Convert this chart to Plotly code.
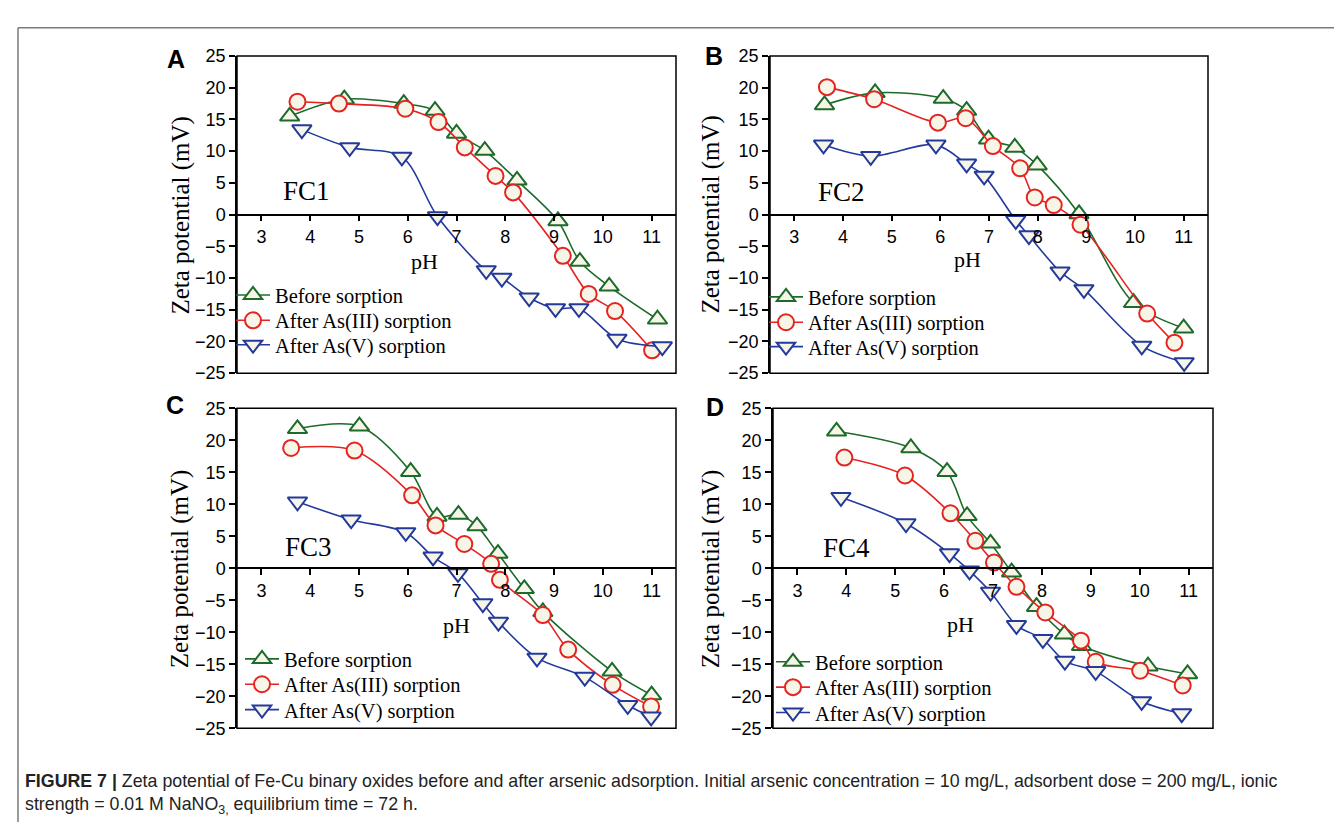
import plotly.graph_objects as go

# ---------------- data ----------------
series_names = ["Before sorption", "After As(III) sorption", "After As(V) sorption"]
panel_letters = ["A", "B", "C", "D"]
sample_names = ["FC1", "FC2", "FC3", "FC4"]
x_tick_vals = [3, 4, 5, 6, 7, 8, 9, 10, 11]
y_tick_vals = [-25, -20, -15, -10, -5, 0, 5, 10, 15, 20, 25]

# FC1 (panel A)
fc1_before_ph = [3.58, 4.70, 5.92, 6.56, 7.00, 7.58, 8.24, 9.08, 9.53, 10.13, 11.12]
fc1_before_zeta = [15.5, 18.2, 17.5, 16.4, 12.8, 10.1, 5.4, -1.0, -7.4, -11.3, -16.5]
fc1_as3_ph = [3.74, 4.59, 5.95, 6.63, 7.17, 7.80, 8.16, 9.18, 9.71, 10.25, 11.01]
fc1_as3_zeta = [17.8, 17.5, 16.7, 14.6, 10.6, 6.1, 3.5, -6.5, -12.5, -15.2, -21.4]
fc1_as5_ph = [3.83, 4.81, 5.88, 6.61, 7.61, 7.93, 8.49, 9.03, 9.51, 10.29, 11.22]
fc1_as5_zeta = [13.4, 10.6, 9.1, -0.3, -8.8, -10.0, -13.1, -14.8, -14.8, -19.6, -20.8]

# FC2 (panel B)
fc2_before_ph = [3.62, 4.66, 6.06, 6.54, 6.99, 7.53, 7.99, 8.85, 9.97, 11.00]
fc2_before_zeta = [17.3, 19.2, 18.3, 16.4, 11.9, 10.6, 7.8, 0.1, -13.9, -17.9]
fc2_as3_ph = [3.67, 4.64, 5.95, 6.52, 7.08, 7.64, 7.94, 8.33, 8.88, 10.25, 10.81]
fc2_as3_zeta = [20.1, 18.2, 14.5, 15.2, 10.8, 7.3, 2.7, 1.5, -1.6, -15.6, -20.2]
fc2_as5_ph = [3.60, 4.57, 5.91, 6.54, 6.90, 7.55, 7.82, 8.46, 8.95, 10.14, 11.01]
fc2_as5_zeta = [11.0, 9.2, 11.0, 8.0, 6.1, -0.9, -3.3, -9.0, -11.8, -20.7, -23.3]

# FC3 (panel C)
fc3_before_ph = [3.74, 5.01, 6.06, 6.60, 7.04, 7.42, 7.85, 8.39, 8.77, 10.19, 11.00]
fc3_before_zeta = [21.8, 22.2, 15.1, 8.1, 8.4, 6.6, 2.3, -3.2, -6.8, -16.1, -19.8]
fc3_as3_ph = [3.61, 4.91, 6.09, 6.57, 7.16, 7.71, 7.89, 8.77, 9.29, 10.20, 10.99]
fc3_as3_zeta = [18.8, 18.4, 11.4, 6.7, 3.8, 0.7, -1.8, -7.3, -12.7, -18.2, -21.6]
fc3_as5_ph = [3.74, 4.84, 5.96, 6.52, 7.03, 7.54, 7.86, 8.65, 9.63, 10.51, 10.99]
fc3_as5_zeta = [10.4, 7.6, 5.6, 1.8, -0.8, -5.5, -8.4, -14.0, -17.0, -21.4, -23.2]

# FC4 (panel D)
fc4_before_ph = [3.80, 5.32, 6.06, 6.47, 6.95, 7.38, 7.89, 8.46, 8.81, 10.17, 10.98]
fc4_before_zeta = [21.4, 18.8, 15.1, 8.2, 3.9, -0.6, -6.0, -10.3, -12.1, -15.3, -16.5]
fc4_as3_ph = [3.96, 5.20, 6.13, 6.64, 7.02, 7.48, 8.07, 8.80, 9.10, 10.01, 10.88]
fc4_as3_zeta = [17.3, 14.5, 8.6, 4.3, 0.9, -2.9, -6.9, -11.3, -14.6, -16.0, -18.3]
fc4_as5_ph = [3.89, 5.22, 6.11, 6.52, 6.95, 7.48, 8.02, 8.47, 9.10, 10.04, 10.86]
fc4_as5_zeta = [11.1, 7.0, 2.3, -0.4, -3.7, -8.9, -11.1, -14.5, -16.1, -20.8, -22.7]

caption_line1 = ("<b>FIGURE 7 |</b> Zeta potential of Fe-Cu binary oxides before and after arsenic "
                 "adsorption. Initial arsenic concentration = 10 mg/L, adsorbent dose = 200 mg/L, ionic")
caption_line2 = "strength = 0.01 M NaNO<sub>3,</sub> equilibrium time = 72 h."

panels_data = [
    [(fc1_before_ph, fc1_before_zeta), (fc1_as3_ph, fc1_as3_zeta), (fc1_as5_ph, fc1_as5_zeta)],
    [(fc2_before_ph, fc2_before_zeta), (fc2_as3_ph, fc2_as3_zeta), (fc2_as5_ph, fc2_as5_zeta)],
    [(fc3_before_ph, fc3_before_zeta), (fc3_as3_ph, fc3_as3_zeta), (fc3_as5_ph, fc3_as5_zeta)],
    [(fc4_before_ph, fc4_before_zeta), (fc4_as3_ph, fc4_as3_zeta), (fc4_as5_ph, fc4_as5_zeta)],
]

# ---------------- styling ----------------
W, H = 1342, 824
colors = ["#1c6b2a", "#e5231f", "#233a9c"]
symbols = ["triangle-up", "circle", "triangle-down"]
marker_fill = "#f7f5e8"
serif = "Liberation Serif, Times New Roman, serif"
sans = "Liberation Sans, Arial, sans-serif"

# pixel boxes of the four plot areas (left, right, top, bottom)
boxes = [(229, 668, 39, 364), (762, 1200, 39, 364), (229, 668, 400, 728), (765, 1205, 400, 728)]
letter_pos = [(168, 42), (706, 39), (167, 397), (707, 399)]
fc_pos = [(0.100, 0.575), (0.105, 0.572), (0.105, 0.567), (0.109, 0.564)]
ph_pos = [(0.428, 0.351), (0.452, 0.360), (0.499, 0.320), (0.427, 0.323)]
ytitle_x = [-0.1276, -0.1347, -0.130, -0.141]
# legend: symbol-centre x and the three item centre y (pixels, placement targets)
legend_sym_x = [254, 787, 263, 794]
legend_item_y = [(284, 310, 335), (286, 312, 337), (657, 683, 709), (660, 686, 712)]
LEGEND_SYM_OFFSET = 31

fig = go.Figure()
layout = dict(
    width=W, height=H, margin=dict(l=0, r=0, t=0, b=0),
    paper_bgcolor="white", plot_bgcolor="white", showlegend=True,
)
shapes = []
annotations = []

for i in range(4):
    n = i + 1
    sfx = "" if n == 1 else str(n)
    xa, ya = "x" + sfx, "y" + sfx
    l, r, t, b = boxes[i]
    xd = [l / W, r / W]
    yd = [1 - b / H, 1 - t / H]
    for k in range(3):
        li = 3 * i + k + 1
        lg = "legend" if li == 1 else "legend" + str(li)
        ph, z = panels_data[i][k]
        fig.add_trace(go.Scatter(
            x=ph, y=z, xaxis=xa, yaxis=ya, legend=lg, name=series_names[k],
            mode="lines+markers",
            line=dict(color=colors[k], width=1.6, shape="spline", smoothing=0.9),
            marker=dict(symbol=symbols[k], size=16 if k == 1 else 17, color=marker_fill,
                        line=dict(color=colors[k], width=2)),
        ))
        layout[lg] = dict(
            x=(legend_sym_x[i] - LEGEND_SYM_OFFSET) / W, y=1 - legend_item_y[i][k] / H,
            xanchor="left", yanchor="middle", bgcolor="rgba(0,0,0,0)",
            borderwidth=0, itemwidth=34,
            font=dict(family=serif, size=20.5, color="black"),
        )
    layout["xaxis" + sfx] = dict(
        domain=xd, range=[2.5, 11.5], anchor="free", position=(yd[0] + yd[1]) / 2,
        showline=True, linecolor="black", linewidth=1.5, ticks="outside", ticklen=6,
        tickwidth=1.5, tickcolor="black", tickvals=x_tick_vals, showgrid=False, zeroline=False,
        tickfont=dict(family=sans, size=18, color="black"),
    )
    layout["yaxis" + sfx] = dict(
        domain=yd, range=[-25, 25], anchor=xa, showline=True, linecolor="black", linewidth=1.5,
        ticks="outside", ticklen=6, tickwidth=1.5, tickcolor="black", tickvals=y_tick_vals,
        showgrid=False, zeroline=False, tickfont=dict(family=sans, size=18, color="black"),
    )
    shapes.append(dict(type="rect", xref=xa + " domain", yref=ya + " domain", x0=0, x1=1, y0=0, y1=1,
                       line=dict(color="black", width=1.5), layer="above"))
    annotations.append(dict(text=sample_names[i], xref=xa + " domain", yref=ya + " domain",
                            x=fc_pos[i][0], y=fc_pos[i][1], xanchor="left", yanchor="middle",
                            showarrow=False, font=dict(family=serif, size=27, color="black")))
    annotations.append(dict(text="pH", xref=xa + " domain", yref=ya + " domain",
                            x=ph_pos[i][0], y=ph_pos[i][1], xanchor="center", yanchor="middle",
                            showarrow=False, font=dict(family=serif, size=22, color="black")))
    annotations.append(dict(text="Zeta potential (mV)", xref=xa + " domain", yref=ya + " domain",
                            x=ytitle_x[i], y=0.5, xanchor="center", yanchor="middle", textangle=-90,
                            showarrow=False, font=dict(family=serif, size=25, color="black")))
    px_, py_ = letter_pos[i]
    annotations.append(dict(text="<b>" + panel_letters[i] + "</b>", xref="paper", yref="paper",
                            x=px_ / W, y=1 - py_ / H, xanchor="center", yanchor="middle",
                            showarrow=False, font=dict(family=sans, size=25, color="black")))

annotations.append(dict(text=caption_line1, xref="paper", yref="paper", x=15 / W, y=1 - 782 / H,
                        xanchor="left", yanchor="middle", showarrow=False,
                        font=dict(family=sans, size=17.8, color="#222222")))
annotations.append(dict(text=caption_line2, xref="paper", yref="paper", x=15 / W, y=1 - 807 / H,
                        xanchor="left", yanchor="middle", showarrow=False,
                        font=dict(family=sans, size=17.8, color="#222222")))

# outer figure border (left and top edges)
shapes.append(dict(type="line", xref="paper", yref="paper", x0=10 / W, x1=1, y0=1 - 10 / H, y1=1 - 10 / H,
                   line=dict(color="#7a7a7a", width=1.5)))
shapes.append(dict(type="line", xref="paper", yref="paper", x0=10 / W, x1=10 / W, y0=0, y1=1 - 10 / H,
                   line=dict(color="#7a7a7a", width=1.5)))

layout["shapes"] = shapes
layout["annotations"] = annotations
fig.update_layout(**layout)
fig.write_html("out.html")
